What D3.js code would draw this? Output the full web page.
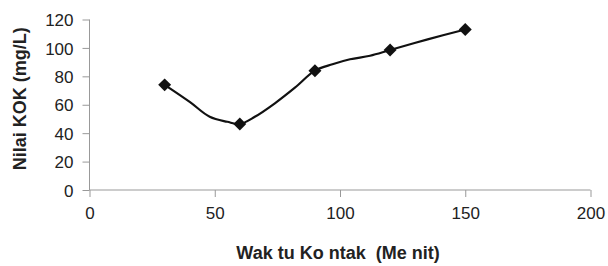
<!DOCTYPE html>
<html>
<head>
<meta charset="utf-8">
<script src="https://cdn.jsdelivr.net/npm/d3@7"></script>
<style>
    body { margin: 0; background: #fff; }
    svg { display: block; }
    .tick text { font-family: "Liberation Sans", Arial, sans-serif; font-size: 17px; fill: #222; }
</style>
</head>
<body>
<script>
(function () {

    // Measured points (markers)
    var waktu = [30, 60, 90, 120, 150];
    var kok = [74, 46.5, 84, 98.5, 113];

    // Points the smoothed line passes through
    var lineX = [30, 40, 48, 55, 60, 66, 74, 82, 90, 97, 104, 112, 120, 135, 150];
    var lineY = [74, 62, 51.5, 48, 46.5, 51.5, 61, 72, 84, 88.5, 92, 94.5, 98.5, 106, 113];

    // Tick labels
    var xTicks = [0, 50, 100, 150, 200];
    var yTicks = [0, 20, 40, 60, 80, 100, 120];

    var axisColor = "#999999";
    var lineColor = "#111111";

    var margin = {top: 19.5, right: 18, bottom: 76, left: 89.5},
        width = 608 - margin.left - margin.right,
        height = 266 - margin.top - margin.bottom;

    var svg = d3.select("body")
        .append("svg")
        .attr("width", 608)
        .attr("height", 266)
        .append("g")
        .attr("transform", "translate(" + margin.left + "," + margin.top + ")");

    var x = d3.scaleLinear().domain([0, 200]).range([0, 501]);
    var y = d3.scaleLinear().domain([0, 120]).range([height, 0]);

    // y axis
    var yAxis = svg.append("g")
        .call(d3.axisLeft(y).tickValues(yTicks).tickSize(7).tickPadding(9));
    yAxis.selectAll("line, path").attr("stroke", axisColor);
    yAxis.select(".domain").attr("d", "M0," + height + "V0");
    yAxis.selectAll("text").attr("dy", "0.36em");

    // x axis
    var xAxis = svg.append("g")
        .attr("transform", "translate(0," + height + ")")
        .call(d3.axisBottom(x).tickValues(xTicks).tickSize(7).tickPadding(16));
    xAxis.selectAll("line, path").attr("stroke", axisColor);
    xAxis.select(".domain").attr("d", "M0,0H" + x(200));
    xAxis.selectAll("text").attr("dy", "0.36em");

    // smoothed line
    var pts = lineX.map(function (d, i) { return [d, lineY[i]]; });
    svg.append("path")
        .datum(pts)
        .attr("fill", "none")
        .attr("stroke", lineColor)
        .attr("stroke-width", 2.2)
        .attr("d", d3.line()
            .curve(d3.curveCatmullRom.alpha(0.5))
            .x(function (d) { return x(d[0]); })
            .y(function (d) { return y(d[1]); }));

    // diamond markers
    svg.selectAll(".dot")
        .data(waktu)
        .enter().append("path")
        .attr("class", "dot")
        .attr("d", d3.symbol().type(d3.symbolSquare).size(84))
        .attr("fill", lineColor)
        .attr("transform", function (d, i) {
            return "translate(" + x(d) + "," + y(kok[i]) + ") rotate(45)";
        });

    // axis titles
    svg.append("text")
        .attr("transform", "translate(" + (20 - margin.left) + "," + (height / 2 - 6) + ") rotate(-90)")
        .attr("text-anchor", "middle")
        .attr("dy", "0.35em")
        .style("font-family", "'Liberation Sans', Arial, sans-serif")
        .style("font-size", "18px")
        .style("font-weight", "bold")
        .style("fill", "#222")
        .text("Nilai KOK (mg/L)");

    svg.append("text")
        .attr("x", 338 - margin.left)
        .attr("y", 259 - margin.top)
        .attr("text-anchor", "middle")
        .style("font-family", "'Liberation Sans', Arial, sans-serif")
        .style("font-size", "18px")
        .style("font-weight", "bold")
        .style("fill", "#222")
        .style("white-space", "pre")
        .text("Wak tu Ko ntak  (Me nit)");

})();
</script>
</body>
</html>
